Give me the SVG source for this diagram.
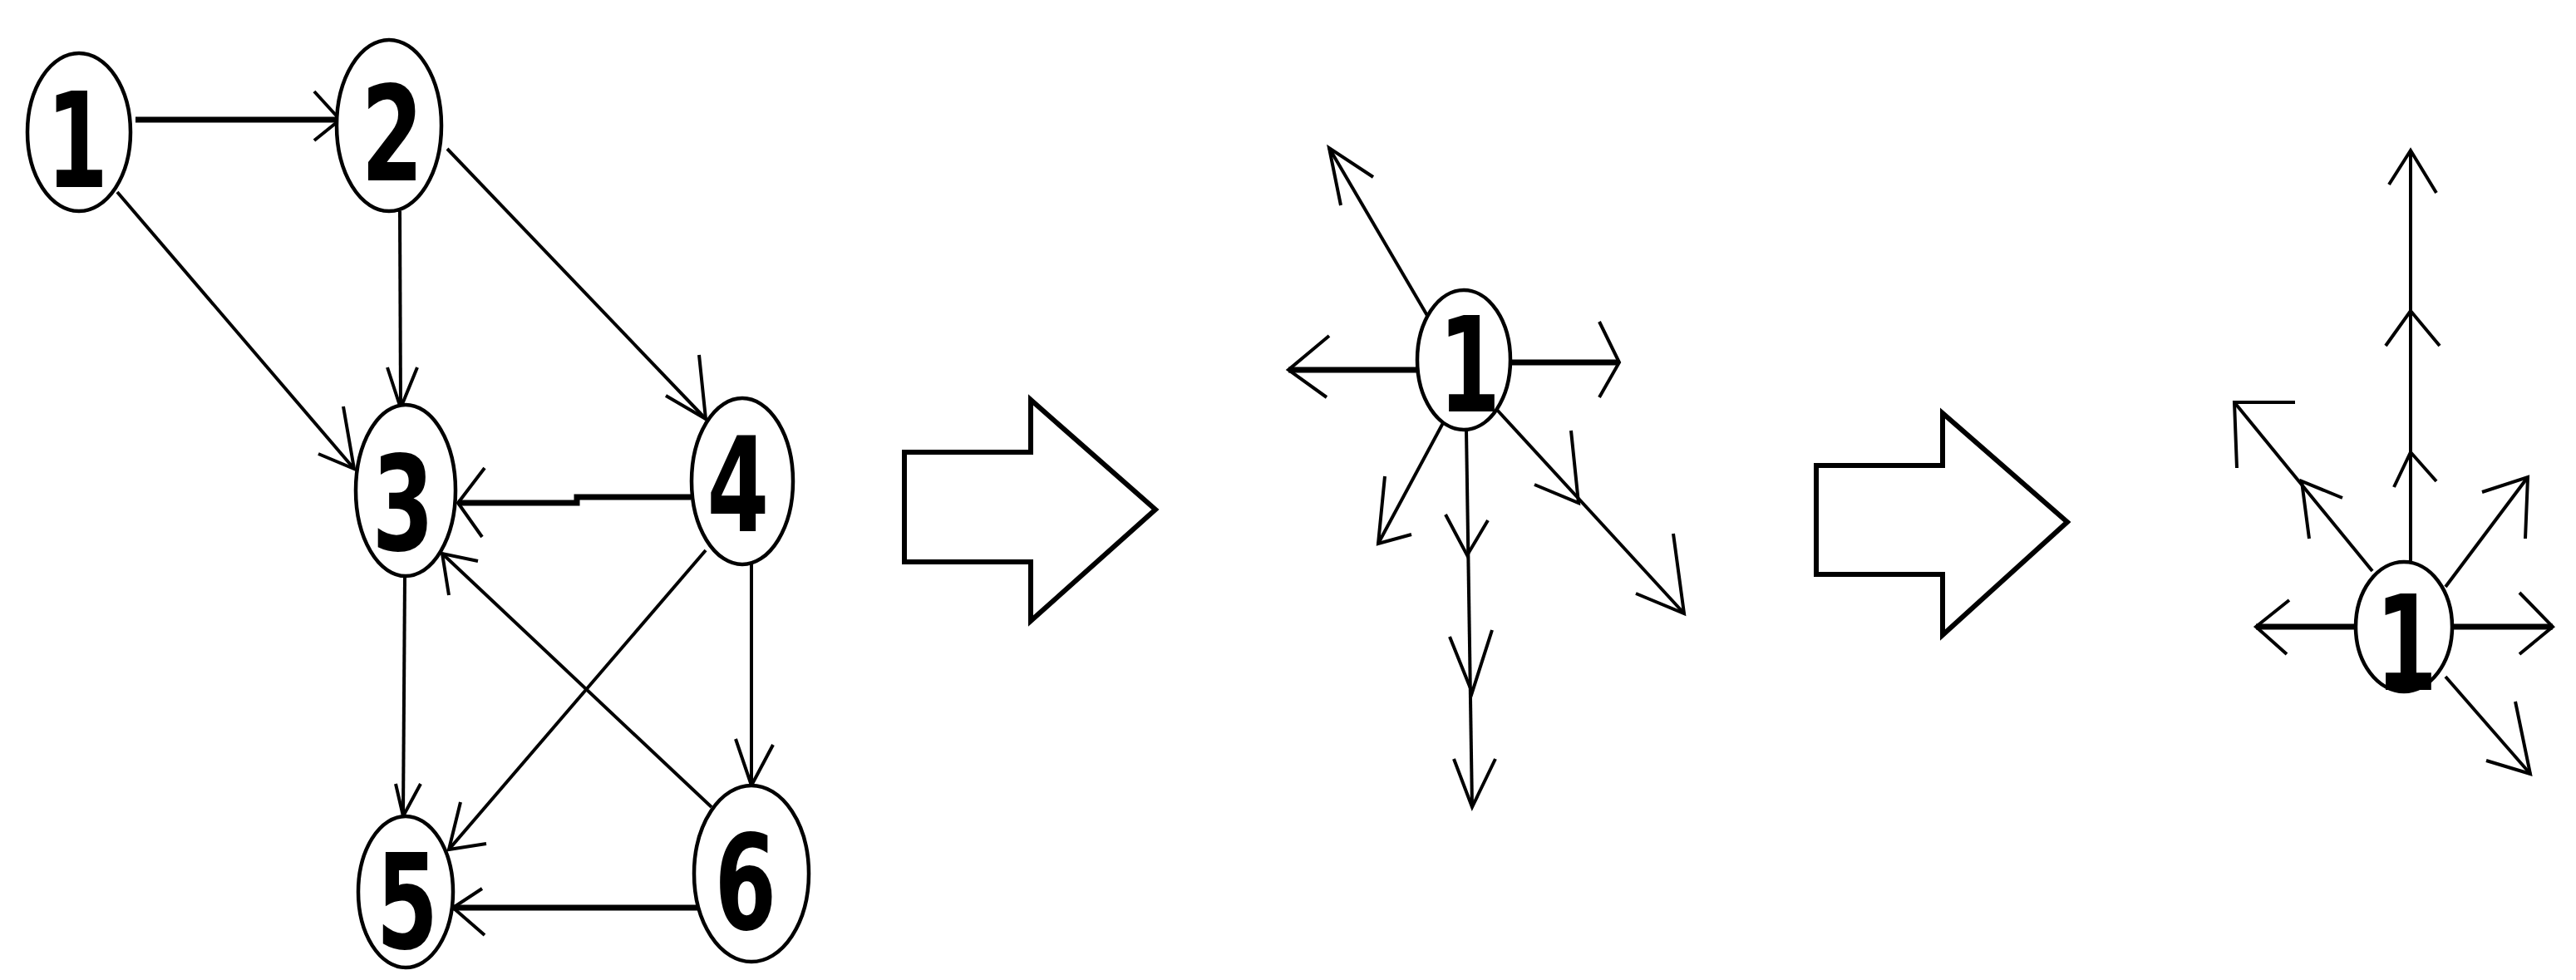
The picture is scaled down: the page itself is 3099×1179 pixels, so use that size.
<svg xmlns="http://www.w3.org/2000/svg" width="3099" height="1179" viewBox="0 0 3099 1179">
<style>
.node ellipse{fill:#fff;stroke:#000;stroke-width:4.5}
.lbl{font-family:"DejaVu Sans","Liberation Sans",sans-serif;font-weight:bold;font-size:158px;fill:#000;text-anchor:middle}
.e{fill:none;stroke:#000;stroke-width:4}
.t{fill:none;stroke:#000;stroke-width:7}
.h{fill:none;stroke:#000;stroke-width:4;stroke-linejoin:miter}
.blk{fill:#fff;stroke:#000;stroke-width:6;stroke-linejoin:miter}
</style>
<rect width="3099" height="1179" fill="#fff"/>
<g id="connectors">
<!-- left graph -->
<path class="t" d="M163 144 L409 144"/><path class="h" d="M378 110 L409 144 L378 169"/>
<path class="e" d="M141 231 L426 564"/><path class="h" d="M413 489 L426 564 L383 546"/>
<path class="e" d="M481 254 L482 491"/><path class="h" d="M466 442 L482 491 L502 442"/>
<path class="e" d="M538 179 L849 504"/><path class="h" d="M841 427 L849 504 L801 476"/>
<path class="t" d="M831 598 L694 598 L694 605 L551 605"/><path class="h" d="M583 563 L551 605 L580 646"/>
<path class="e" d="M487 693 L485 982"/><path class="h" d="M476 943 L485 982 L506 943"/>
<path class="e" d="M849 662 L540 1022"/><path class="h" d="M554 965 L540 1022 L585 1015"/>
<path class="e" d="M904 679 L904 945"/><path class="h" d="M885 889 L904 945 L930 896"/>
<path class="e" d="M856 971 L532 666"/><path class="h" d="M575 675 L532 666 L540 716"/>
<path class="t" d="M843 1092 L545 1092"/><path class="h" d="M580 1069 L545 1092 L583 1125"/>
<!-- middle star -->
<path class="e" d="M1719 383 L1599 178"/><path class="h" d="M1613 247 L1599 178 L1652 213"/>
<path class="t" d="M1705 445 L1550 445"/><path class="h" d="M1599 404 L1550 445 L1596 478"/>
<path class="t" d="M1818 436 L1948 436"/><path class="h" d="M1924 387 L1948 436 L1924 478"/>
<path class="e" d="M1737 507 L1658 654"/><path class="h" d="M1666 573 L1658 654 L1698 643"/>
<path class="e" d="M1764 517 L1771 971"/><path class="h" d="M1739 619 L1765 668 L1790 626"/><path class="h" d="M1744 766 L1771 833 L1795 758"/><path class="h" d="M1749 913 L1771 971 L1799 913"/>
<path class="e" d="M1800 492 L2026 738"/><path class="h" d="M1890 518 L1899 605 L1846 583"/><path class="h" d="M2013 642 L2026 738 L1968 714"/>
<!-- right star -->
<path class="e" d="M2900 676 L2900 181"/><path class="h" d="M2874 222 L2900 181 L2931 232"/><path class="h" d="M2870 416 L2900 374 L2935 416"/><path class="h" d="M2880 586 L2900 544 L2931 579"/>
<path class="e" d="M2854 687 L2688 484"/><path class="h" d="M2761 484 L2688 484 L2691 563"/><path class="h" d="M2818 599 L2769 579 L2778 648"/>
<path class="e" d="M2942 706 L3041 574"/><path class="h" d="M2986 592 L3041 574 L3038 648"/>
<path class="t" d="M2849 754 L2714 754"/><path class="h" d="M2754 722 L2714 754 L2751 787"/>
<path class="t" d="M2950 754 L3071 754"/><path class="h" d="M3031 713 L3071 754 L3031 787"/>
<path class="e" d="M2942 814 L3044 931"/><path class="h" d="M3026 844 L3044 931 L2991 915"/>
</g>
<g id="bigarrow1"><polygon class="blk" points="1088,544 1240,544 1240,481 1390,613 1240,747 1240,676 1088,676"/></g>
<g id="bigarrow2"><polygon class="blk" points="2185,560 2337,560 2337,497 2487,628 2337,764 2337,691 2185,691"/></g>
<g id="n1" class="node"><ellipse cx="95" cy="159" rx="62" ry="95"/><text class="lbl" transform="translate(93 225) scale(0.68 1)">1</text></g>
<g id="n2" class="node"><ellipse cx="468" cy="151" rx="63" ry="103"/><text class="lbl" transform="translate(472 217) scale(0.68 1)">2</text></g>
<g id="n3" class="node"><ellipse cx="488" cy="590" rx="60" ry="103"/><text class="lbl" transform="translate(485 662) scale(0.68 1)">3</text></g>
<g id="n4" class="node"><ellipse cx="893" cy="579" rx="61" ry="100"/><text class="lbl" transform="translate(888 639) scale(0.68 1)">4</text></g>
<g id="n5" class="node"><ellipse cx="488" cy="1073" rx="57" ry="91"/><text class="lbl" transform="translate(490 1141) scale(0.68 1)">5</text></g>
<g id="n6" class="node"><ellipse cx="904" cy="1051" rx="69" ry="106"/><text class="lbl" transform="translate(897 1118) scale(0.68 1)">6</text></g>
<g id="m1" class="node"><ellipse cx="1761" cy="433" rx="56" ry="84"/><text class="lbl" transform="translate(1768 495) scale(0.68 1)">1</text></g>
<g id="r1" class="node"><ellipse cx="2892" cy="754" rx="58" ry="78"/><text class="lbl" transform="translate(2895 830) scale(0.68 1)">1</text></g>
</svg>
